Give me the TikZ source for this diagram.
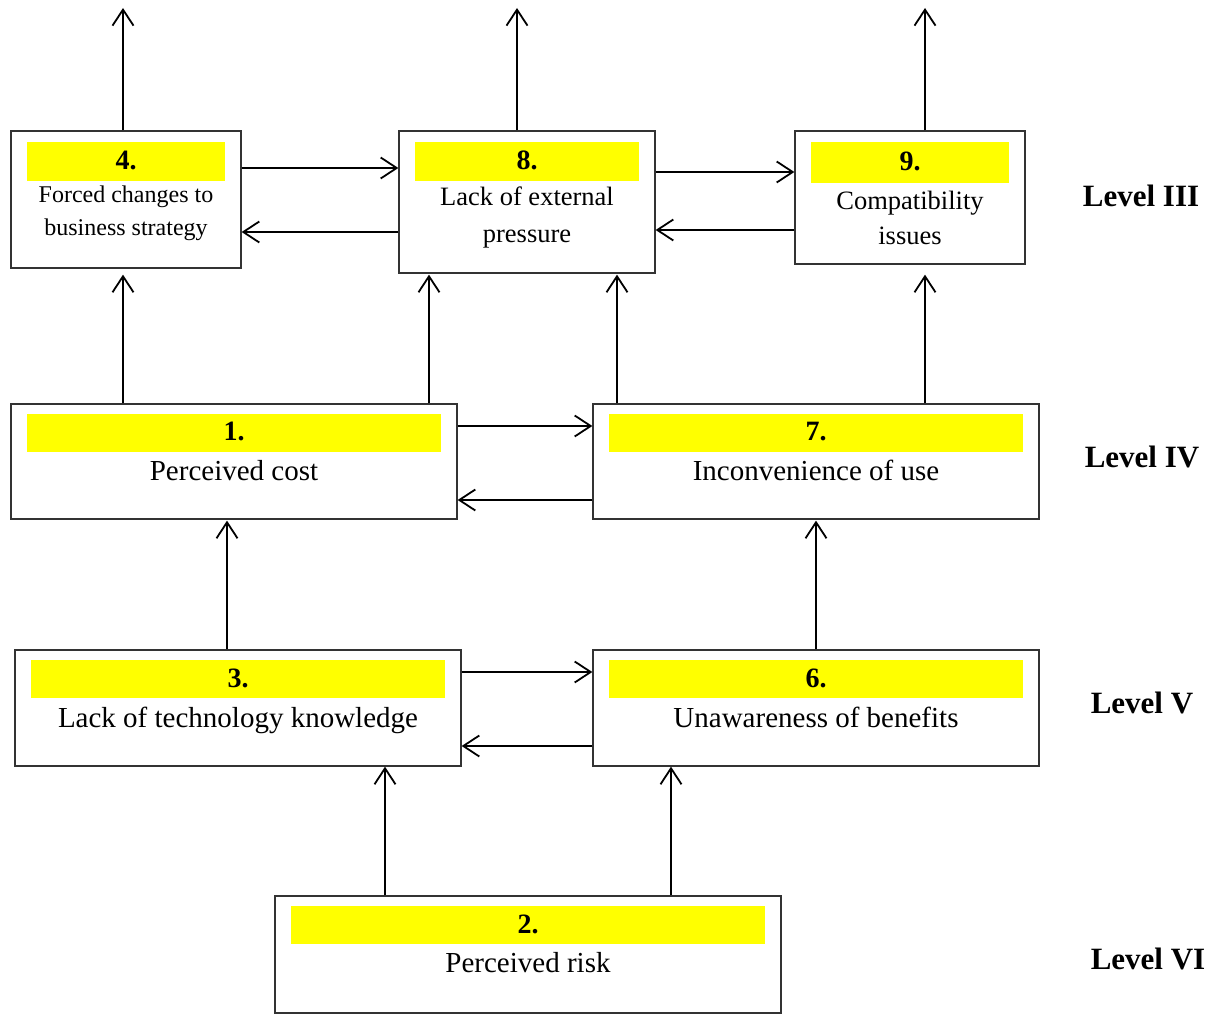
\documentclass[tikz,border=0pt]{standalone}
\usepackage{fontspec}
\setmainfont{Liberation Serif}
\usetikzlibrary{positioning,arrows.meta}
\definecolor{jaune}{RGB}{255,255,0}

\begin{document}
\begin{tikzpicture}[x=1pt, y=-1pt,
    boite/.style={draw=black!80, line width=1.3pt, inner sep=0pt},
    barre/.style={fill=jaune, inner sep=0pt, text depth=0.25em, font=\fontsize{28}{30}\selectfont\bfseries},
    texte/.style={inner sep=0pt, anchor=base, font=\fontsize{29}{33}\selectfont},
    petit/.style={inner sep=0pt, anchor=base, font=\fontsize{24}{28}\selectfont},
    moyen/.style={inner sep=0pt, anchor=base, font=\fontsize{26.5}{30}\selectfont},
    niveau/.style={inner sep=0pt, anchor=base, font=\fontsize{31}{35}\selectfont\bfseries},
    fleche/.style={line width=1.8pt, -{Straight Barb[length=16pt, width=21pt, line width=1.8pt]}}]
        \useasboundingbox (0,0) rectangle (1221,1014);

        % Niveau III
        \node[boite, minimum width=230, minimum height=137] (b4) at (126,199.5) {};
        \node[barre, minimum width=198, minimum height=39] (n4) at (126,161.5) {4.};
        \node[petit] (t4a) at (126,202) {Forced changes to};
        \node[petit] (t4b) at (126,235) {business strategy};

        \node[boite, minimum width=256, minimum height=142] (b8) at (527,202) {};
        \node[barre, minimum width=224, minimum height=39] (n8) at (527,161.5) {8.};
        \node[moyen] (t8a) at (527,205) {Lack of external};
        \node[moyen] (t8b) at (527,242) {pressure};

        \node[boite, minimum width=230, minimum height=133] (b9) at (910,197.5) {};
        \node[barre, minimum width=198, minimum height=41] (n9) at (910,162.5) {9.};
        \node[moyen] (t9a) at (910,209) {Compatibility};
        \node[moyen] (t9b) at (910,244) {issues};

        % Niveau IV
        \node[boite, minimum width=446, minimum height=115] (b1) at (234,461.5) {};
        \node[barre, minimum width=414, minimum height=38] (n1) at (234,433) {1.};
        \node[texte] (t1) at (234,480) {Perceived cost};

        \node[boite, minimum width=446, minimum height=115] (b7) at (816,461.5) {};
        \node[barre, minimum width=414, minimum height=38] (n7) at (816,433) {7.};
        \node[texte] (t7) at (816,480) {Inconvenience of use};

        % Niveau V
        \node[boite, minimum width=446, minimum height=116] (b3) at (238,708) {};
        \node[barre, minimum width=414, minimum height=38] (n3) at (238,679) {3.};
        \node[texte] (t3) at (238,727) {Lack of technology knowledge};

        \node[boite, minimum width=446, minimum height=116] (b6) at (816,708) {};
        \node[barre, minimum width=414, minimum height=38] (n6) at (816,679) {6.};
        \node[texte] (t6) at (816,727) {Unawareness of benefits};

        % Niveau VI
        \node[boite, minimum width=506, minimum height=117] (b2) at (528,954.5) {};
        \node[barre, minimum width=474, minimum height=38] (n2) at (528,925) {2.};
        \node[texte] (t2) at (528,972) {Perceived risk};

        % Etiquettes des niveaux
        \node[niveau] (l3) at (1141,206) {Level III};
        \node[niveau] (l4) at (1142,467) {Level IV};
        \node[niveau] (l5) at (1142,713) {Level V};
        \node[niveau] (l6) at (1148,969) {Level VI};

        % Sorties vers le haut
        \coordinate (h4) at (123,8);
        \coordinate (h8) at (517,8);
        \coordinate (h9) at (925,8);
        \draw[fleche] (b4.north -| h4) -- (h4);
        \draw[fleche] (b8.north -| h8) -- (h8);
        \draw[fleche] (b9.north -| h9) -- (h9);

        % Arcs horizontaux
        \draw[fleche] (b4.east |- 0,168) -- (b8.west |- 0,168);
        \draw[fleche] (b8.west |- 0,232) -- (b4.east |- 0,232);
        \draw[fleche] (b8.east |- 0,172) -- (b9.west |- 0,172);
        \draw[fleche] (b9.west |- 0,230) -- (b8.east |- 0,230);
        \draw[fleche] (b1.east |- 0,426) -- (b7.west |- 0,426);
        \draw[fleche] (b7.west |- 0,500) -- (b1.east |- 0,500);
        \draw[fleche] (b3.east |- 0,672) -- (b6.west |- 0,672);
        \draw[fleche] (b6.west |- 0,746) -- (b3.east |- 0,746);

        % Arcs verticaux
        \draw[fleche, shorten >=6pt] (b1.north -| h4) -- (b4.south -| h4);
        \draw[fleche, shorten >=1pt] (b1.north -| 429,0) -- (b8.south -| 429,0);
        \draw[fleche, shorten >=1pt] (b7.north -| 617,0) -- (b8.south -| 617,0);
        \draw[fleche, shorten >=10pt] (b7.north -| h9) -- (b9.south -| h9);
        \draw[fleche, shorten >=1pt] (b3.north -| 227,0) -- (b1.south -| 227,0);
        \draw[fleche, shorten >=1pt] (b6.north -| b6.center) -- (b7.south -| b6.center);
        \draw[fleche] (b2.north -| 385,0) -- (b3.south -| 385,0);
        \draw[fleche] (b2.north -| 671,0) -- (b6.south -| 671,0);
    \end{tikzpicture}
\end{document}
